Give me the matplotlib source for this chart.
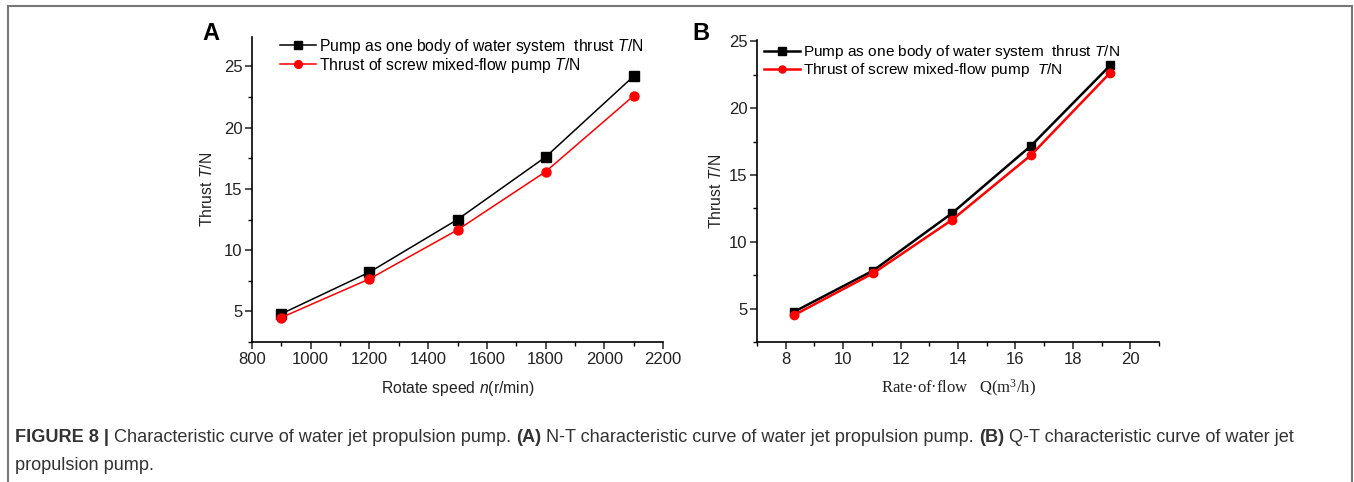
import matplotlib
matplotlib.use("Agg")
import matplotlib.pyplot as plt
from matplotlib.ticker import MultipleLocator
from matplotlib.patches import Rectangle

plt.rcParams['font.family'] = ['Liberation Sans', 'DejaVu Sans']
plt.rcParams['mathtext.fontset'] = 'custom'
plt.rcParams['mathtext.rm'] = 'Liberation Sans'
plt.rcParams['mathtext.it'] = 'Liberation Sans:italic'

# Panel A data: rotate speed vs thrust
speed = [900, 1200, 1500, 1800, 2100]
thrust_body_a = [4.8, 8.2, 12.5, 17.6, 24.2]
thrust_pump_a = [4.5, 7.65, 11.65, 16.4, 22.6]

# Panel B data: flow rate vs thrust
flow = [8.28, 11.05, 13.8, 16.55, 19.3]
thrust_body_b = [4.75, 7.85, 12.15, 17.2, 23.2]
thrust_pump_b = [4.5, 7.65, 11.65, 16.5, 22.65]

label_body_a = r"Pump as one body of water system  thrust $\it{T}$/N"
label_pump_a = r"Thrust of screw mixed-flow pump $\it{T}$/N"
label_body_b = r"Pump as one body of water system  thrust $\it{T}$/N"
label_pump_b = r"Thrust of screw mixed-flow pump  $\it{T}$/N"

W, H = 1354, 482
fig = plt.figure(figsize=(W / 100, H / 100), dpi=100)

def fx(px):
    return px / W

def fy(py):
    return 1 - py / H

axA = fig.add_axes([fx(252), fy(342), fx(663 - 252), (342 - 37) / H])
axB = fig.add_axes([fx(757), fy(342), fx(1159 - 757), (342 - 40) / H])

def style(ax):
    for s in ['top', 'right']:
        ax.spines[s].set_visible(False)
    for s in ['left', 'bottom']:
        ax.spines[s].set_linewidth(1.2)
    ax.tick_params(which='major', direction='out', length=5, width=1.1,
                   labelsize=12, colors='#222222', pad=2)
    ax.tick_params(which='minor', direction='out', length=3, width=1.0)

# Panel A
axA.plot(speed, thrust_body_a, color='black', marker='s', markersize=6.5, lw=1.1,
         label=label_body_a)
axA.plot(speed, thrust_pump_a, color='#ff0000', marker='o', markersize=6.5, lw=1.1,
         label=label_pump_a)
axA.set_xlim(800, 2200)
axA.set_ylim(2.5, 27.4)
axA.xaxis.set_major_locator(MultipleLocator(200))
axA.xaxis.set_minor_locator(MultipleLocator(100))
axA.yaxis.set_major_locator(MultipleLocator(5))
axA.yaxis.set_minor_locator(MultipleLocator(2.5))
style(axA)
axA.set_xlabel(r"Rotate speed $\it{n}$(r/min)", fontsize=11.3, labelpad=9, color='#222222')
axA.set_ylabel(r"Thrust $\it{T}$/N", fontsize=11.3, labelpad=6, color='#222222')
axA.legend(loc='upper left', bbox_to_anchor=(0.052, 1.022), frameon=False,
           fontsize=11.3, handlelength=2.3, handletextpad=0.2, labelspacing=0.02,
           borderaxespad=0, markerscale=0.85)

# Panel B
axB.plot(flow, thrust_body_b, color='black', marker='s', markersize=6, lw=1.8,
         label=label_body_b)
axB.plot(flow, thrust_pump_b, color='#ff0000', marker='o', markersize=6, lw=1.8,
         label=label_pump_b)
axB.set_xlim(7, 21)
axB.set_ylim(2.5, 25.1)
axB.xaxis.set_major_locator(MultipleLocator(2))
axB.xaxis.set_minor_locator(MultipleLocator(1))
axB.yaxis.set_major_locator(MultipleLocator(5))
axB.yaxis.set_minor_locator(MultipleLocator(2.5))
style(axB)
axB.set_xlabel("Rate·of·flow   Q(m$\\mathregular{^3}$/h)", fontsize=12,
               family=['Liberation Serif'], labelpad=8, color='#222222')
axB.set_ylabel(r"Thrust $\it{T}$/N", fontsize=11.3, labelpad=3, color='#222222')
axB.legend(loc='upper left', bbox_to_anchor=(0.003, 1.01), frameon=False,
           fontsize=11.1, handlelength=2.3, handletextpad=0.2, labelspacing=0.02,
           borderaxespad=0, markerscale=0.85)

# Panel letters
fig.text(fx(202), fy(34), "A", fontsize=17, fontweight='bold', va='center', ha='left')
fig.text(fx(692), fy(34), "B", fontsize=17, fontweight='bold', va='center', ha='left')

# Caption
cfs = 13.05
cap_y1 = fy(437)
cap_y2 = fy(466)
t1 = fig.text(fx(15), cap_y1, "FIGURE 8 |", fontsize=cfs, fontweight='bold',
              va='center', ha='left', color='#333333')
fig.canvas.draw()
r = fig.canvas.get_renderer()

def place(parts, x0, y):
    x = x0
    for txt, bold in parts:
        t = fig.text(x, y, txt, fontsize=cfs, fontweight='bold' if bold else 'normal',
                     va='center', ha='left', color='#333333')
        bb = t.get_window_extent(renderer=r)
        x += bb.width / W
    return x

bb = t1.get_window_extent(renderer=r)
place([(" Characteristic curve of water jet propulsion pump. ", False),
       ("(A)", True),
       (" N-T characteristic curve of water jet propulsion pump. ", False),
       ("(B)", True),
       (" Q-T characteristic curve of water jet", False)],
      fx(15) + bb.width / W, cap_y1)
fig.text(fx(15), cap_y2, "propulsion pump.", fontsize=cfs, va='center', ha='left',
         color='#333333')

# Outer border
fig.patches.append(Rectangle((fx(8), -0.05), fx(1352 - 8), fy(6) + 0.05,
                             transform=fig.transFigure, fill=False,
                             edgecolor='#777777', linewidth=1.5))

fig.savefig("out.png", dpi=100)
